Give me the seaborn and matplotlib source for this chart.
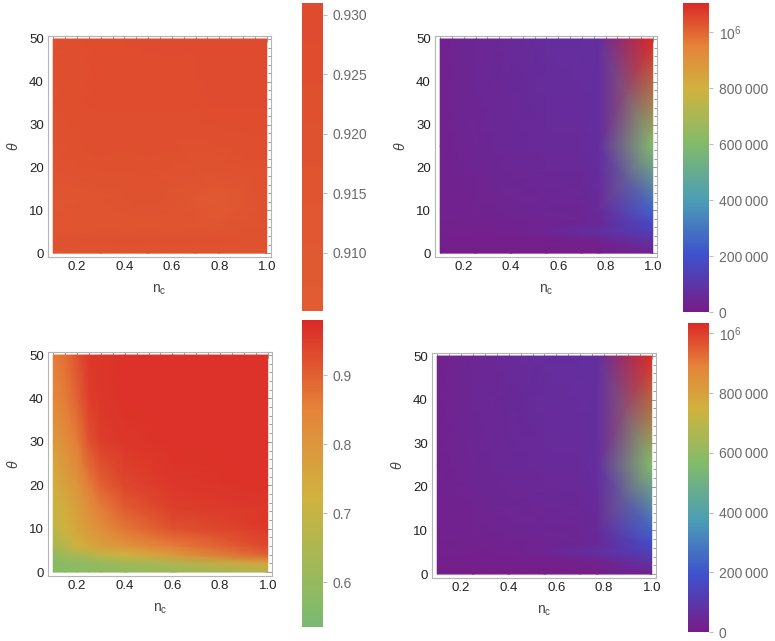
import numpy as np
import seaborn as sns
import matplotlib.pyplot as plt
from matplotlib.colors import Normalize, ListedColormap, LinearSegmentedColormap
from matplotlib.cm import ScalarMappable
from matplotlib.ticker import MultipleLocator, FixedLocator, FixedFormatter

# ---- данные ----
# верхний левый: почти постоянное поле ~0.92
nc_a = [0.1, 0.3, 0.5, 0.7, 0.8, 1.0]
theta_a = [0, 3, 6, 12, 20, 35, 50]
val_a = [
    [0.917, 0.918, 0.919, 0.919, 0.919, 0.918],
    [0.918, 0.921, 0.922, 0.922, 0.921, 0.920],
    [0.914, 0.915, 0.917, 0.916, 0.916, 0.918],
    [0.913, 0.916, 0.920, 0.911, 0.910, 0.918],
    [0.918, 0.921, 0.922, 0.918, 0.918, 0.924],
    [0.922, 0.925, 0.927, 0.927, 0.928, 0.928],
    [0.924, 0.926, 0.928, 0.929, 0.930, 0.930],
]

# нижний левый
nc_b = [0.1, 0.15, 0.2, 0.25, 0.3, 0.4, 0.6, 1.0]
theta_b = [0, 2, 4, 6, 10, 15, 20, 30, 40, 50]
val_b = [
    [0.580, 0.580, 0.585, 0.590, 0.595, 0.600, 0.610, 0.660],
    [0.570, 0.575, 0.580, 0.590, 0.600, 0.620, 0.650, 0.760],
    [0.600, 0.620, 0.640, 0.660, 0.680, 0.720, 0.790, 0.900],
    [0.640, 0.670, 0.720, 0.750, 0.770, 0.800, 0.860, 0.935],
    [0.680, 0.720, 0.760, 0.790, 0.820, 0.870, 0.920, 0.955],
    [0.710, 0.740, 0.780, 0.820, 0.860, 0.910, 0.950, 0.960],
    [0.730, 0.770, 0.800, 0.860, 0.900, 0.940, 0.960, 0.965],
    [0.790, 0.820, 0.860, 0.920, 0.950, 0.960, 0.965, 0.965],
    [0.840, 0.860, 0.900, 0.950, 0.960, 0.965, 0.965, 0.965],
    [0.860, 0.880, 0.920, 0.955, 0.960, 0.965, 0.965, 0.965],
]

# правые панели
nc_r = [0.1, 0.25, 0.4, 0.55, 0.7, 0.77, 1.0]
theta_r = [0, 3, 5, 7, 10, 25, 50]
val_c = [
    [10e3, 10e3, 10e3, 10e3, 10e3, 15e3, 30e3],
    [15e3, 15e3, 15e3, 15e3, 20e3, 25e3, 90e3],
    [20e3, 20e3, 25e3, 40e3, 70e3, 80e3, 140e3],
    [20e3, 25e3, 30e3, 35e3, 40e3, 50e3, 180e3],
    [25e3, 30e3, 35e3, 40e3, 45e3, 55e3, 250e3],
    [30e3, 40e3, 50e3, 55e3, 60e3, 70e3, 600e3],
    [30e3, 45e3, 55e3, 65e3, 70e3, 70e3, 1.10e6],
]
val_d = [
    [10e3, 10e3, 10e3, 10e3, 10e3, 14e3, 28e3],
    [14e3, 14e3, 14e3, 14e3, 19e3, 24e3, 85e3],
    [19e3, 19e3, 24e3, 38e3, 66e3, 75e3, 132e3],
    [19e3, 24e3, 28e3, 33e3, 38e3, 47e3, 170e3],
    [24e3, 28e3, 33e3, 38e3, 42e3, 52e3, 235e3],
    [28e3, 38e3, 47e3, 52e3, 56e3, 66e3, 565e3],
    [28e3, 42e3, 52e3, 61e3, 66e3, 66e3, 1.03e6],
]

range_a = (0.9051, 0.931)
range_b = (0.535, 0.98)
range_c = (0, 1.104e6)
range_d = (0, 1.035e6)

# ---- оформление ----
sns.set_theme(style="white")
plt.rcParams['font.family'] = ['Liberation Sans', 'DejaVu Sans']
plt.rcParams['mathtext.fontset'] = 'custom'
plt.rcParams['mathtext.rm'] = 'Liberation Sans'
plt.rcParams['mathtext.it'] = 'Liberation Sans:italic'

# палитра в духе Mathematica "Rainbow"
rainbow = LinearSegmentedColormap.from_list('rainbow_m', [
    (0.00, '#781c86'), (0.18, '#3f50cd'), (0.36, '#4b9db6'),
    (0.55, '#84bb68'), (0.72, '#cfb33f'), (0.86, '#e5843a'), (1.00, '#db2a27')])
left_cmap = ListedColormap(rainbow(np.linspace(0.52, 1.0, 256)))
norm_left = Normalize(*range_b)
a0, a1 = norm_left(range_a[0]), norm_left(range_a[1])
cmap_a_bar = ListedColormap(left_cmap(np.linspace(a0, a1, 64)))

fig = plt.figure(figsize=(7.75, 6.41), dpi=100)
W, H = 775, 641


def px_axes(x0, y0, x1, y1):
    return fig.add_axes([x0 / W, 1 - y1 / H, (x1 - x0) / W, (y1 - y0) / H])


panels = [
    (nc_a, theta_a, val_a, left_cmap, norm_left, (48, 36, 271, 257)),
    (nc_r, theta_r, val_c, rainbow, Normalize(*range_c), (435, 36, 657, 257)),
    (nc_b, theta_b, val_b, left_cmap, norm_left, (48, 352, 272, 576)),
    (nc_r, theta_r, val_d, rainbow, Normalize(*range_d), (432, 353, 656, 578)),
]

for nc, th, vals, cmap, norm, box in panels:
    ax = px_axes(*box)
    X, Y = np.meshgrid(nc, th)
    ax.pcolormesh(X, Y, np.array(vals), cmap=cmap, norm=norm, shading='gouraud')
    ax.set_xlim(0.078, 1.018)
    ax.set_ylim(-0.9, 50.7)
    ax.xaxis.set_major_locator(FixedLocator([0.2, 0.4, 0.6, 0.8, 1.0]))
    ax.xaxis.set_major_formatter(FixedFormatter(['0.2', '0.4', '0.6', '0.8', '1.0']))
    ax.xaxis.set_minor_locator(MultipleLocator(0.05))
    ax.yaxis.set_major_locator(MultipleLocator(10))
    ax.yaxis.set_minor_locator(MultipleLocator(2))
    ax.tick_params(which='both', direction='in', top=True, right=True,
                   color='#9a9a9a', width=0.7)
    ax.tick_params(which='major', length=4, labelsize=9.5, labelcolor='#222222', pad=3)
    ax.tick_params(which='minor', length=2)
    for sp in ax.spines.values():
        sp.set_color('#b5b5b5')
        sp.set_linewidth(0.8)
    ax.set_xlabel(r'n$_\mathregular{c}$', fontsize=10, color='#444444', labelpad=7)
    ax.set_ylabel(r'$\theta$', fontsize=10, color='#444444', labelpad=6)

# ---- шкалы цвета ----
bars = [
    (cmap_a_bar, range_a, (302, 3, 323, 311),
     [0.910, 0.915, 0.920, 0.925, 0.930],
     ['0.910', '0.915', '0.920', '0.925', '0.930']),
    (rainbow, range_c, (683, 3, 709, 312),
     [0, 2e5, 4e5, 6e5, 8e5, 1e6],
     ['0', '200\u2009000', '400\u2009000', '600\u2009000', '800\u2009000', r'$\mathregular{10^6}$']),
    (left_cmap, range_b, (302, 320, 323, 627),
     [0.6, 0.7, 0.8, 0.9], ['0.6', '0.7', '0.8', '0.9']),
    (rainbow, range_d, (688, 323, 709, 632),
     [0, 2e5, 4e5, 6e5, 8e5, 1e6],
     ['0', '200\u2009000', '400\u2009000', '600\u2009000', '800\u2009000', r'$\mathregular{10^6}$']),
]

for cmap, rng, box, ticks, labels in bars:
    cax = px_axes(*box)
    sm = ScalarMappable(norm=Normalize(*rng), cmap=cmap)
    cb = fig.colorbar(sm, cax=cax)
    cb.outline.set_visible(False)
    cb.set_ticks(ticks)
    cb.set_ticklabels(labels)
    cax.tick_params(length=3, width=0.6, color='#b0b0b0', labelsize=10,
                    labelcolor='#6a6a6a', pad=4)

plt.savefig('out.png', dpi=100)
